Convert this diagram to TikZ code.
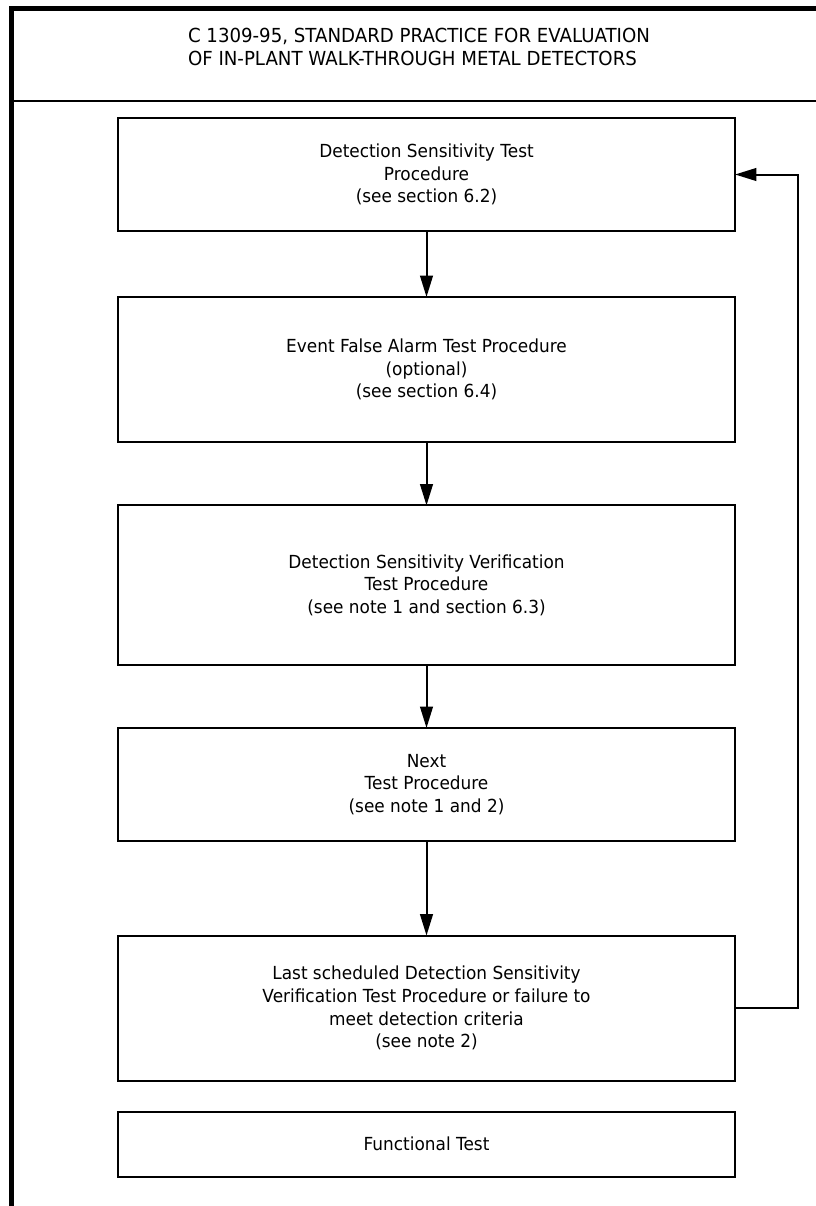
\documentclass[tikz,border=0pt]{standalone}
\usepackage{fontspec}
\setmainfont{DejaVu Sans}[FakeStretch=0.94]
\usetikzlibrary{arrows.meta,positioning}

\begin{document}
\begin{tikzpicture}[->,>={Triangle[length=16pt,width=9.5pt]},x=0.75pt,y=-0.75pt,
                    line width=1.5pt,
                    box/.style={rectangle,draw,outer sep=0pt,minimum width=462.75pt,
                                align=center,font=\fontsize{13.5}{17}\selectfont},
                    heading/.style={anchor=west,align=left,inner sep=0pt,
                                    font=\fontsize{14.5}{17.3}\selectfont},
                    frame/.style={-,line width=3.4pt},
                    rule/.style={-,line width=1.5pt}]

  \useasboundingbox (0,0) rectangle (816,1206);

  % outer frame and heading
  \draw[frame] (11.5,1206) -- (11.5,8.5) -- (816,8.5);
  \draw[rule] (11.5,100.5) -- (816,100.5);
  \node[heading] (std) at (187,47) {C 1309-95, STANDARD PRACTICE FOR EVALUATION\\OF IN-PLANT WALK-THROUGH METAL DETECTORS};

  \node[box,minimum height=84.75pt] (dsens) at (426.5,174.5) {Detection Sensitivity Test\\Procedure\\(see section 6.2)};
  \node[box,minimum height=108.75pt] (efa) [below=49.5pt of dsens] {Event False Alarm Test Procedure\\(optional)\\(see section 6.4)};
  \node[box,minimum height=119.6pt] (dsver) [below=47.6pt of efa] {Detection Sensitivity Verification\\Test Procedure\\(see note 1 and section 6.3)};
  \node[box,minimum height=84.75pt] (next) [below=47.3pt of dsver] {Next\\Test Procedure\\(see note 1 and 2)};
  \node[box,minimum height=109.1pt] (last) [below=70.9pt of next] {Last scheduled Detection Sensitivity\\Verification Test Procedure or failure to\\meet detection criteria\\(see note 2)};
  \node[box,minimum height=49.1pt] (func) [below=22.9pt of last] {Functional Test};

  \path (dsens) edge (efa)
        (efa)   edge (dsver)
        (dsver) edge (next)
        (next)  edge (last);

  % back to the start
  \path (last.east) ++(62.7,0) coordinate (turn);
  \draw (last.east) -- (turn) |- (dsens.east);
\end{tikzpicture}
\end{document}
